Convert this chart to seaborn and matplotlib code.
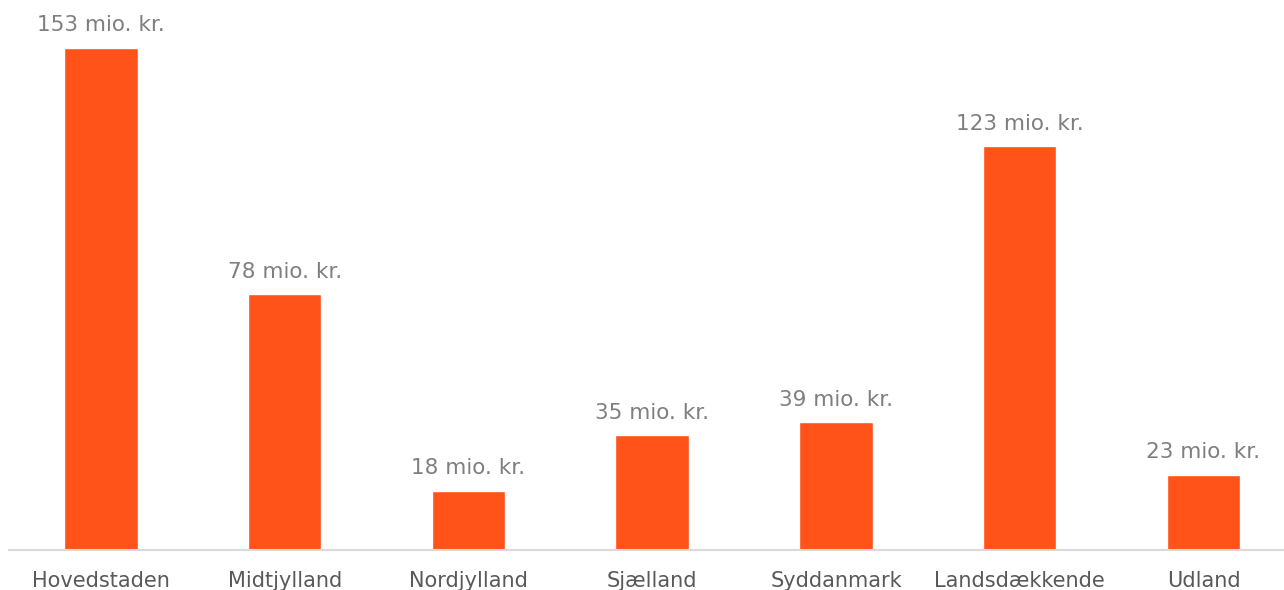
import matplotlib
matplotlib.use("Agg")
import matplotlib.pyplot as plt
import seaborn as sns
import pandas as pd

categories = ["Hovedstaden", "Midtjylland", "Nordjylland", "Sjælland", "Syddanmark", "Landsdækkende", "Udland"]
values = [153, 78, 18, 35, 39, 123, 23]
labels = [f"{v} mio. kr." for v in values]

sns.set_theme(style="white")
plt.rcParams['font.family'] = ['DejaVu Sans']

df = pd.DataFrame({"region": categories, "value": values})

fig = plt.figure(figsize=(12.84, 5.90), dpi=100)
ax = fig.add_axes([9 / 1284, 40 / 590, 1 - 9 / 1284, 550 / 590])
sns.barplot(data=df, x="region", y="value", color="#FF5319", width=0.40, saturation=1, ax=ax)

for i, (v, lab) in enumerate(zip(values, labels)):
    ax.annotate(lab, (i, v), xytext=(0, 9), textcoords="offset points",
                ha="center", va="bottom", fontsize=15.5, color="#7F7F7F")

ax.set_xlim(-0.5, 6.438)
ax.set_ylim(0, 167.6)
ax.set_xlabel("")
ax.set_ylabel("")
ax.set_yticks([])
for s in ["top", "right", "left"]:
    ax.spines[s].set_visible(False)
ax.spines["bottom"].set_color("#D9D9D9")
ax.spines["bottom"].set_linewidth(1.5)
ax.tick_params(axis="x", length=0, pad=15, labelsize=15, labelcolor="#595959")

fig.savefig("out.png", dpi=100)
